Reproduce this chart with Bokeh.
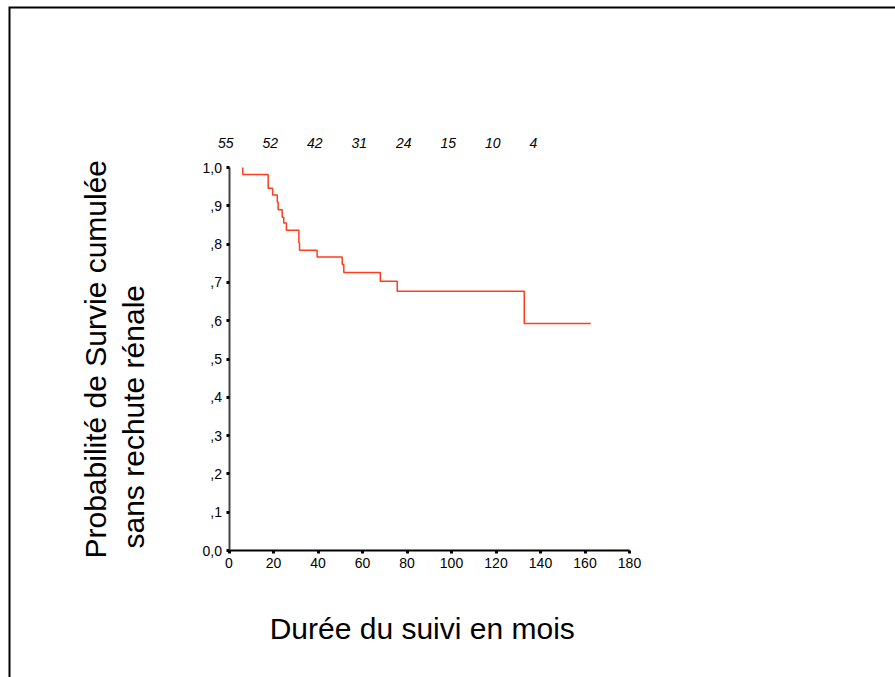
import math
from bokeh.plotting import figure
from bokeh.models import Range1d, FixedTicker
from bokeh.core.properties import value
from bokeh.embed import file_html
from bokeh.resources import INLINE

# ---------------- data ----------------
event_times = [6.2, 6.2, 17.6, 19.6, 21.7, 22.1, 23.9, 24.6, 25.8, 31.4, 31.7,
               39.6, 50.9, 51.6, 68.0, 75.6, 132.7, 162.6]
survival = [1.0, 0.982, 0.946, 0.928, 0.909, 0.890, 0.870, 0.855, 0.836, 0.803,
            0.784, 0.766, 0.747, 0.726, 0.703, 0.677, 0.593, 0.593]

risk_times = [0, 20, 40, 60, 80, 100, 120, 140]
at_risk = ["55", "52", "42", "31", "24", "15", "10", "4"]

x_ticks = [0, 20, 40, 60, 80, 100, 120, 140, 160, 180]
y_ticks = [0.0, 0.1, 0.2, 0.3, 0.4, 0.5, 0.6, 0.7, 0.8, 0.9, 1.0]
y_tick_labels = ["0,0", ",1", ",2", ",3", ",4", ",5", ",6", ",7", ",8", ",9", "1,0"]

y_title_lines = ["Probabilité de Survie cumulée", "sans rechute rénale"]
x_title = "Durée du suivi en mois"

# ---------------- layout ----------------
W, H = 895, 677
ox, oy = 228.5, 550.0          # canvas pixel of data origin (0, 0)
sx, sy = 2.225, 383.0          # pixels per data unit
x_start, x_end = -ox / sx, (W - ox) / sx
y_end, y_start = oy / sy, (oy - H) / sy

FONT_NAME = "Liberation Sans"
FONT = value(FONT_NAME)

p = figure(width=W, height=H, output_backend="svg", toolbar_location=None,
           title_location=None,
           x_range=Range1d(x_start, x_end), y_range=Range1d(y_start, y_end),
           min_border=0, min_border_left=0, min_border_right=0,
           min_border_top=0, min_border_bottom=0)
p.background_fill_color = "white"
p.border_fill_color = "white"
p.outline_line_color = None
p.grid.visible = False

# outer box frame: left and top edges (right/bottom run off the page)
bx = x_start + 9.0 / sx
by = y_end - 7.0 / sy
p.line(x=[bx, bx, x_end], y=[y_start, by, by],
       line_color="black", line_width=2, line_join="miter")

# x axis
xa = p.xaxis[0]
xa.fixed_location = 0
xa.bounds = (0, 180)
xa.ticker = FixedTicker(ticks=x_ticks)
xa.axis_line_color = "black"
xa.axis_line_width = 2
xa.major_tick_in = 0
xa.major_tick_out = 3
xa.major_tick_line_width = 3
xa.major_tick_line_color = "black"
xa.minor_tick_line_color = None
xa.major_label_text_font = FONT_NAME
xa.major_label_text_font_size = "14px"
xa.major_label_text_color = "black"
xa.major_label_standoff = 4

# y axis
ya = p.yaxis[0]
ya.fixed_location = 0
ya.bounds = (0, 1)
ya.ticker = FixedTicker(ticks=y_ticks)
ya.major_label_overrides = {t: l for t, l in zip(y_ticks, y_tick_labels)}
ya.axis_line_color = "#444444"
ya.axis_line_width = 2
ya.major_tick_in = 0
ya.major_tick_out = 3
ya.major_tick_line_width = 3
ya.major_tick_line_color = "black"
ya.minor_tick_line_color = None
ya.major_label_text_font = FONT_NAME
ya.major_label_text_font_size = "14px"
ya.major_label_text_color = "black"
ya.major_label_standoff = 4

# x title
p.text(x=[(x_ticks[0] + x_ticks[-1]) / 2], y=[0], text=[x_title],
       x_offset=-7, y_offset=78, text_align="center", text_baseline="middle",
       text_font=FONT, text_font_size="30px", text_color="black")

# y title (two lines, left-aligned along reading direction)
p.text(x=[0], y=[0], text=[y_title_lines[0]], angle=math.pi / 2,
       x_offset=-133.5, y_offset=8, text_align="left", text_baseline="middle",
       text_font=FONT, text_font_size="30px", text_color="black")
p.text(x=[0], y=[0], text=[y_title_lines[1]], angle=math.pi / 2,
       x_offset=-95.5, y_offset=-2, text_align="left", text_baseline="middle",
       text_font=FONT, text_font_size="30px", text_color="black")

# numbers at risk
p.text(x=risk_times, y=[1.0] * len(risk_times), text=at_risk,
       x_offset=-11, y_offset=-25, text_align="left", text_baseline="middle",
       text_font=FONT, text_font_size="14px", text_font_style="italic",
       text_color="black")

# Kaplan-Meier curve
p.step(x=event_times, y=survival, mode="after", line_color="#ff3c1e", line_width=1.5)

open("out.html", "w").write(file_html(p, INLINE))
